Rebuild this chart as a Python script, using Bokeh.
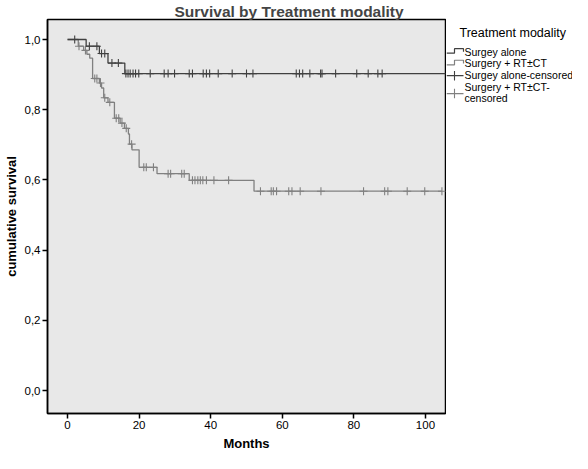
import numpy as np
from bokeh.plotting import figure
from bokeh.layouts import row
from bokeh.models import Range1d, FixedTicker
from bokeh.embed import file_html
from bokeh.resources import INLINE
from bokeh.core.properties import value

# ---------------- data ----------------
title_text = "Survival by Treatment modality"
legend_title = "Treatment modality"
group_names = ["Surgey alone", "Surgery + RT\u00b1CT"]
censor_names = ["Surgey alone-censored", "Surgery + RT\u00b1CT-", "censored"]

alone_event_t = [0.0, 5.2, 8.9, 11.3, 16.0]
alone_event_s = [1.0, 0.981, 0.960, 0.933, 0.903]
alone_censor_t = [2.0, 6.1, 8.2, 9.5, 10.4, 12.4, 14.2, 16.3, 16.9, 17.5, 18.3,
                  19.0, 19.9, 23.1, 27.0, 28.1, 29.9, 34.0, 34.9, 37.9, 38.8,
                  39.7, 42.1, 46.0, 50.0, 51.8, 63.9, 64.8, 65.7, 67.7, 70.7,
                  71.1, 74.9, 80.8, 84.0, 86.7, 87.9]
alone_last_t = 106.0

rt_event_t = [0.0, 3.0, 4.5, 5.4, 6.2, 7.0, 8.9, 9.5, 10.1, 11.3, 13.1, 14.7,
              15.9, 17.0, 17.3, 18.0, 20.0, 25.0, 34.0, 52.1]
rt_event_s = [1.0, 0.981, 0.969, 0.958, 0.947, 0.889, 0.876, 0.862, 0.834,
              0.821, 0.776, 0.762, 0.747, 0.731, 0.702, 0.686, 0.636, 0.618,
              0.599, 0.568]
rt_censor_t = [3.2, 5.0, 7.6, 8.2, 9.2, 10.4, 11.8, 13.6, 14.3, 15.2, 16.4, 17.9,
               21.3, 22.0, 24.0, 28.1, 28.8, 31.9, 32.6, 34.9, 35.6, 36.4, 37.1,
               37.8, 38.8, 40.9, 45.0, 53.9, 56.9, 57.5, 58.4, 61.8, 62.7, 65.0,
               70.8, 82.7, 88.6, 89.5, 94.9, 99.8, 104.6]
rt_last_t = 104.6

x_ticks = [0, 20, 40, 60, 80, 100]
y_ticks = [0.0, 0.2, 0.4, 0.6, 0.8, 1.0]
y_tick_labels = ["0,0", "0,2", "0,4", "0,6", "0,8", "1,0"]

# ---------------- styles ----------------
DARK = "#404040"
GRAY = "#808080"
BG = "#e8e8e8"
FONT = "Liberation Sans"
Y_RANGE = (-0.065, 1.057)


def surv_at(ev_t, ev_s, times):
    idx = np.searchsorted(np.asarray(ev_t), np.asarray(times), side="right") - 1
    return list(np.asarray(ev_s)[idx])


p = figure(width=446, height=453, output_backend="svg", toolbar_location=None,
           x_range=Range1d(-5.6, 105.6), y_range=Range1d(*Y_RANGE),
           min_border_left=0, min_border_right=1, min_border_top=0, min_border_bottom=0)
p.background_fill_color = BG
p.border_fill_color = "white"
p.outline_line_color = "black"
p.outline_line_width = 1.5
p.xgrid.visible = False
p.ygrid.visible = False

p.title.text = title_text
p.title.align = "left"
p.title.offset = 127
p.title.text_font = FONT
p.title.text_font_size = "15.5px"
p.title.text_font_style = "bold"
p.title.standoff = 0

for ax in (p.xaxis, p.yaxis):
    ax.axis_line_color = "black"
    ax.axis_line_width = 1.5
    ax.major_tick_line_color = "black"
    ax.major_tick_line_width = 1.5
    ax.major_tick_in = 0
    ax.major_tick_out = 5
    ax.minor_tick_line_color = None
    ax.major_label_text_font = FONT
    ax.major_label_text_font_size = "11.5px"
    ax.major_label_text_color = "black"
    ax.axis_label_text_font = FONT
    ax.axis_label_text_font_size = "13px"
    ax.axis_label_text_font_style = "bold"
    ax.axis_label_text_color = "black"

p.xaxis.ticker = FixedTicker(ticks=x_ticks)
p.yaxis.ticker = FixedTicker(ticks=y_ticks)
p.yaxis.major_label_overrides = {t: l for t, l in zip(y_ticks, y_tick_labels)}
p.xaxis.axis_label = "Months"
p.yaxis.axis_label = "cumulative survival"
p.xaxis.major_label_standoff = 2
p.yaxis.major_label_standoff = 2
p.xaxis.axis_label_standoff = 4
p.yaxis.axis_label_standoff = 3

# Surgery + RT±CT (gray)
p.step(rt_event_t + [rt_last_t], rt_event_s + [rt_event_s[-1]], mode="after",
       line_color=GRAY, line_width=1.3)
p.scatter(rt_censor_t, surv_at(rt_event_t, rt_event_s, rt_censor_t), marker="cross",
          size=8, line_color=GRAY, line_width=1.1)

# Surgery alone (dark)
p.step(alone_event_t + [alone_last_t], alone_event_s + [alone_event_s[-1]], mode="after",
       line_color=DARK, line_width=1.3)
p.scatter(alone_censor_t, surv_at(alone_event_t, alone_event_s, alone_censor_t),
          marker="cross", size=8, line_color=DARK, line_width=1.1)

# ---------------- legend panel (frame aligned with the main frame) ----------------
lg = figure(width=126, height=453, output_backend="svg", toolbar_location=None,
            title=None,
            x_range=Range1d(0, 126), y_range=Range1d(*Y_RANGE),
            x_axis_location=None, y_axis_location=None,
            min_border_left=0, min_border_right=0, min_border_top=0, min_border_bottom=0)
lg.xgrid.visible = False
lg.ygrid.visible = False
lg.outline_line_color = None
lg.background_fill_color = "white"
lg.border_fill_color = "white"

# x: pixels right of the main frame; y: same vertical scale as the main plot
lg.text([13], [1.019], text=[legend_title], text_font=value(FONT), text_font_size="12.5px",
        text_baseline="middle", text_align="left", text_color="black")

sym_colors = [DARK, GRAY]
tx = 18
d = 0.0135  # one symbol step height (about 5 px)
for name, c, yy in zip(group_names, sym_colors, [0.965, 0.932]):
    lg.line([0, 8, 8, 17, 17], [yy - 0.004, yy - 0.004, yy + 0.009, yy + 0.009, yy],
            line_color=c, line_width=1.2)
    lg.text([tx], [yy], text=[name], text_font=value(FONT), text_font_size="10.5px",
            text_baseline="middle", text_align="left", text_color="black")

for c, yy in zip(sym_colors, [0.897, 0.846]):
    lg.line([0, 17], [yy, yy], line_color=c, line_width=1.2)
    lg.line([8, 8], [yy - d, yy + d], line_color=c, line_width=1.1)
for name, yy in zip(censor_names, [0.899, 0.866, 0.833]):
    lg.text([tx], [yy], text=[name], text_font=value(FONT), text_font_size="10.5px",
            text_baseline="middle", text_align="left", text_color="black")

layout = row(p, lg, spacing=0)
open("out.html", "w").write(file_html(layout, INLINE))
